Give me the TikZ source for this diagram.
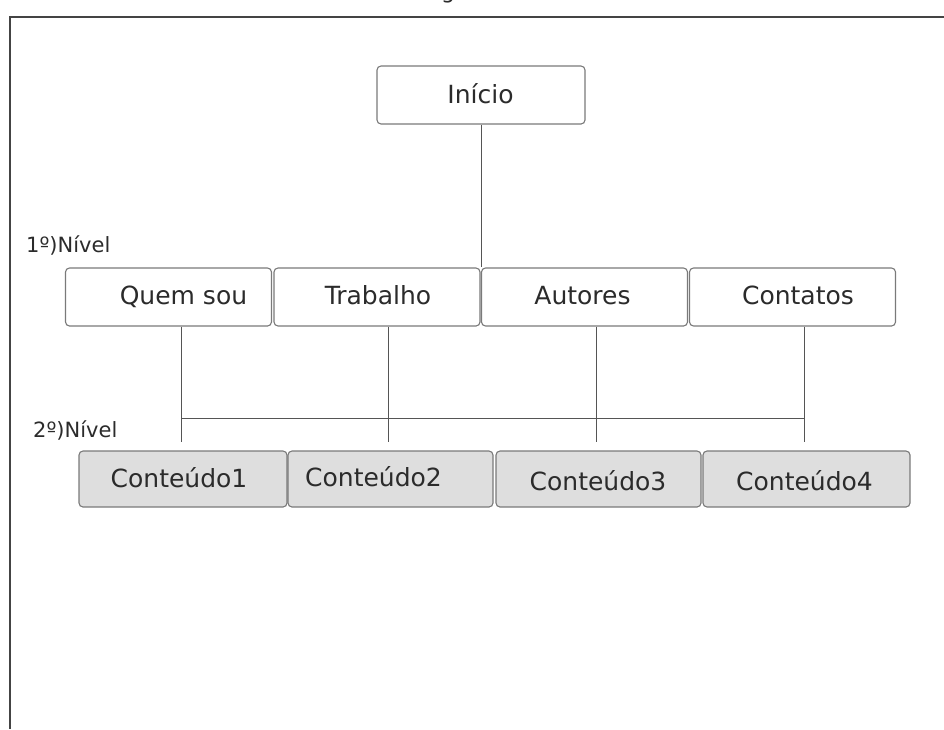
\documentclass[tikz,border=0pt]{standalone}
\usepackage{fontspec}
\setmainfont{DejaVu Sans}
\definecolor{boxline}{HTML}{7A7A7A}
\definecolor{ink}{HTML}{2B2B2B}
\definecolor{wire}{HTML}{555555}
\definecolor{frameline}{HTML}{444444}
\definecolor{leaf}{HTML}{DEDEDE}
\begin{document}
\begin{tikzpicture}[x=1pt,y=-1pt,
  box/.style={draw=boxline, line width=1.1pt, rounded corners=4pt, fill=white,
              minimum height=58pt, inner sep=0pt},
  leafbox/.style={box, fill=leaf, minimum height=56pt},
  txt/.style={anchor=base, inner sep=0pt, text=ink, font=\fontsize{25}{30}\selectfont},
  lvl/.style={anchor=base west, inner sep=0pt, text=ink, font=\fontsize{21}{25}\selectfont},
  conn/.style={draw=wire, line width=1pt},
  frame/.style={draw=frameline, line width=2pt}
]
\useasboundingbox (0,0) rectangle (944,729);

% outer frame (top and left edges)
\draw[frame] (944,17) -- (10,17) -- (10,729);

% title descender peeking in above the frame
\node[txt, font=\fontsize{22}{26}\selectfont] (title) at (448,-2) {g};

% root
\node[box, minimum width=208pt] (inicio) at (481,95) {};
\node[txt] (tinicio) at (480.5,103) {Início};

% first level
\node[lvl] (nivel1) at (26,252) {1º)Nível};
\node[box, minimum width=206pt] (quem) at (168.5,297) {};
\node[box, minimum width=206pt] (trab) at (377,297) {};
\node[box, minimum width=206pt] (aut)  at (584.5,297) {};
\node[box, minimum width=206pt] (cont) at (792.5,297) {};
\node[txt] (tquem) at (183.5,304) {Quem sou};
\node[txt] (ttrab) at (378,304) {Trabalho};
\node[txt] (taut)  at (582.5,304) {Autores};
\node[txt] (tcont) at (798,304) {Contatos};

% second level
\node[lvl] (nivel2) at (33,437) {2º)Nível};
\node[leafbox, minimum width=208pt] (c1) at (183,479) {};
\node[leafbox, minimum width=205pt] (c2) at (390.5,479) {};
\node[leafbox, minimum width=205pt] (c3) at (598.5,479) {};
\node[leafbox, minimum width=207pt] (c4) at (806.5,479) {};
\node[txt] (tc1) at (179,487) {Conteúdo1};
\node[txt] (tc2) at (373.5,486) {Conteúdo2};
\node[txt] (tc3) at (598,490) {Conteúdo3};
\node[txt] (tc4) at (804.5,490) {Conteúdo4};

% connectors: root stem, drops to the second level, and the joining bar
\draw[conn] (inicio.south) -- (inicio.south |- trab.north);
\draw[conn, shorten >=8pt] ([xshift=-2pt]c1.north |- quem.south) -- ([xshift=-2pt]c1.north);
\draw[conn, shorten >=8pt] ([xshift=-2pt]c2.north |- trab.south) -- ([xshift=-2pt]c2.north);
\draw[conn, shorten >=8pt] ([xshift=-2pt]c3.north |- aut.south)  -- ([xshift=-2pt]c3.north);
\draw[conn, shorten >=8pt] ([xshift=-2pt]c4.north |- cont.south) -- ([xshift=-2pt]c4.north);
\draw[conn] ([xshift=-2pt,yshift=32pt]c1.north) -- ([xshift=-2pt,yshift=32pt]c4.north);
\end{tikzpicture}
\end{document}
